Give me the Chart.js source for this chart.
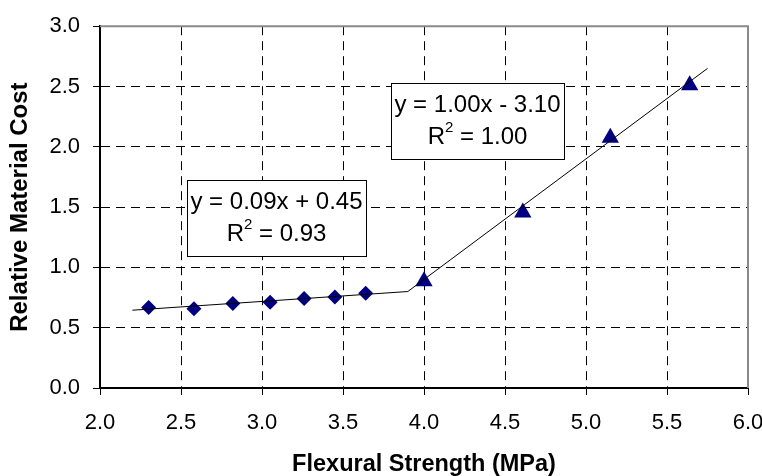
<!DOCTYPE html>
<html>
<head>
<meta charset="utf-8">
<script src="https://cdn.jsdelivr.net/npm/chart.js@4/dist/chart.umd.min.js"></script>
<style>
  html, body { margin: 0; padding: 0; background: #fff; }
  #wrap { width: 762px; height: 476px; }
</style>
</head>
<body>
<div id="wrap"><canvas id="myChart" width="762" height="476"></canvas></div>
<script>
var diamondX = [2.30, 2.58, 2.82, 3.05, 3.26, 3.45, 3.64];
var diamondY = [0.668, 0.658, 0.70, 0.712, 0.742, 0.755, 0.785];
var triX = [4.00, 4.61, 5.15, 5.64];
var triY = [0.885, 1.455, 2.075, 2.51];

// trend line end points
var trend1X = [2.20, 3.90];
var trend1Y = [0.645, 0.80];
var trend2X = [3.90, 5.75];
var trend2Y = [0.80, 2.65];

var xTicks = [2.0, 2.5, 3.0, 3.5, 4.0, 4.5, 5.0, 5.5, 6.0];
var yTicks = [0.0, 0.5, 1.0, 1.5, 2.0, 2.5, 3.0];

var eqLines = ['y = 0.09x + 0.45', 'y = 1.00x - 3.10'];
var r2Values = ['0.93', '1.00'];

var FONT = "'Liberation Sans', Arial, sans-serif";

function pts(xs, ys) {
    var out = [];
    for (var i = 0; i < xs.length; i++) out.push({x: xs[i], y: ys[i]});
    return out;
}

// gray frame on top / right side of plot
var frame = {
    id: 'frame',
    beforeDatasetsDraw: function(chart) {
        var a = chart.chartArea, c = chart.ctx;
        c.save();
        c.strokeStyle = '#8a8a8a';
        c.lineWidth = 2;
        c.beginPath();
        c.moveTo(a.left, a.top);
        c.lineTo(a.right, a.top);
        c.lineTo(a.right, a.bottom);
        c.stroke();
        c.restore();
    }
};

// equation boxes
var boxes = [
    {x: 187, y: 180, w: 179, h: 76},
    {x: 391, y: 83, w: 173, h: 76}
];
var eqBoxes = {
    id: 'eqBoxes',
    afterDatasetsDraw: function(chart) {
        var c = chart.ctx;
        c.save();
        for (var i = 0; i < boxes.length; i++) {
            var b = boxes[i];
            c.fillStyle = '#fff';
            c.fillRect(b.x, b.y, b.w, b.h);
            c.strokeStyle = '#000';
            c.lineWidth = 1;
            c.strokeRect(b.x + 0.5, b.y + 0.5, b.w, b.h);
            var cx = b.x + b.w / 2;
            c.fillStyle = '#000';
            c.textBaseline = 'middle';
            c.font = '24px ' + FONT;
            c.textAlign = 'center';
            c.fillText(eqLines[i], cx, b.y + 22);
            // R^2 line
            var p1 = 'R', p3 = ' = ' + r2Values[i];
            var w1 = c.measureText(p1).width, w3 = c.measureText(p3).width;
            c.font = '15px ' + FONT;
            var w2 = c.measureText('2').width;
            var sx = cx - (w1 + w2 + w3) / 2;
            var ly = b.y + 54;
            c.textAlign = 'left';
            c.font = '24px ' + FONT;
            c.fillText(p1, sx, ly);
            c.font = '15px ' + FONT;
            c.fillText('2', sx + w1, ly - 9);
            c.font = '24px ' + FONT;
            c.fillText(p3, sx + w1 + w2, ly);
        }
        c.restore();
    }
};

var ctx = document.getElementById('myChart').getContext('2d');
var myChart = new Chart(ctx, {
    type: 'scatter',
    data: {
        datasets: [{
            data: pts(trend1X, trend1Y),
            showLine: true,
            borderColor: '#000',
            borderWidth: 1,
            pointRadius: 0
        }, {
            data: pts(trend2X, trend2Y),
            showLine: true,
            borderColor: '#000',
            borderWidth: 1,
            pointRadius: 0
        }, {
            data: pts(diamondX, diamondY),
            pointStyle: 'rectRot',
            pointRadius: 7.5,
            backgroundColor: '#000080',
            borderColor: '#000080',
            borderWidth: 0
        }, {
            data: pts(triX, triY),
            pointStyle: 'triangle',
            pointRadius: 10,
            backgroundColor: '#000080',
            borderColor: '#000080',
            borderWidth: 0
        }]
    },
    options: {
        responsive: false,
        animation: false,
        layout: { padding: { top: 20, right: 14, left: 0, bottom: 0 } },
        plugins: {
            legend: { display: false },
            tooltip: { enabled: false }
        },
        scales: {
            x: {
                type: 'linear',
                min: 2, max: 6,
                afterBuildTicks: function(s) { s.ticks = xTicks.map(function(v) { return {value: v}; }); },
                afterFit: function(s) { s.height = 88; s.paddingRight = 0; s.paddingLeft = 0; },
                ticks: {
                    color: '#000',
                    font: { family: FONT, size: 22 },
                    padding: 15,
                    maxRotation: 0,
                    callback: function(v) { return v.toFixed(1); }
                },
                grid: {
                    color: function(c) { return (c.tick && c.tick.value === 6) ? 'rgba(0,0,0,0)' : '#000'; },
                    lineWidth: 1,
                    tickLength: 7,
                    tickColor: '#000',
                    tickWidth: 1
                },
                border: { color: '#000', width: 2, dash: [9, 6] },
                title: {
                    display: true,
                    text: 'Flexural Strength (MPa)',
                    color: '#000',
                    font: { family: FONT, size: 23.5, weight: 'bold', lineHeight: 1 },
                    padding: { top: 0, bottom: 0 }
                }
            },
            y: {
                min: 0, max: 3,
                afterBuildTicks: function(s) { s.ticks = yTicks.map(function(v) { return {value: v}; }); },
                afterFit: function(s) { s.width = 100; },
                ticks: {
                    color: '#000',
                    font: { family: FONT, size: 22 },
                    padding: 13,
                    callback: function(v) { return v.toFixed(1); }
                },
                grid: {
                    color: function(c) { return (c.tick && c.tick.value === 3) ? 'rgba(0,0,0,0)' : '#000'; },
                    lineWidth: 1,
                    tickLength: 7,
                    tickColor: '#000',
                    tickWidth: 1
                },
                border: { color: '#000', width: 2, dash: [9, 6] },
                title: {
                    display: true,
                    text: 'Relative Material Cost',
                    color: '#000',
                    font: { family: FONT, size: 24, weight: 'bold', lineHeight: 1 },
                    padding: { top: 8, bottom: 0 }
                }
            }
        }
    },
    plugins: [frame, eqBoxes]
});
</script>
</body>
</html>
